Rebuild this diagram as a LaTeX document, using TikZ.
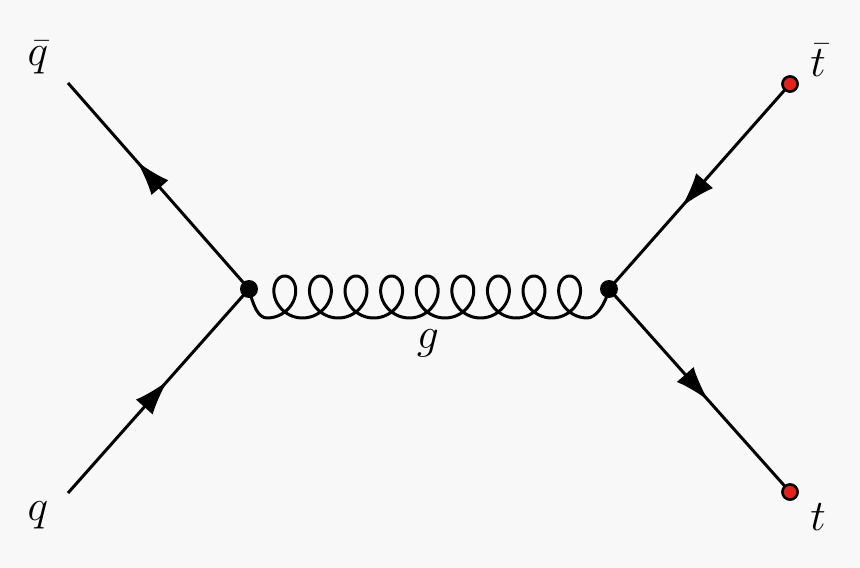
\documentclass[tikz,border=0pt]{standalone}
\usetikzlibrary{arrows.meta,decorations.markings}
\definecolor{bg}{HTML}{F8F8F8}
\definecolor{tred}{HTML}{E8201C}
\begin{document}
\begin{tikzpicture}[x=0.02cm,y=-0.02cm,
  fermion/.style={line width=1.7pt,postaction={decorate},decoration={markings,mark=at position #1 with {\arrow{Latex[length=0.7cm,width=0.45cm]}}}},
  gluon/.style={line width=1.7pt},
  vtx/.style={circle,fill=black,inner sep=0pt,minimum size=0.36cm},
  ext/.style={circle,fill=tred,draw=black,line width=1.4pt,inner sep=0pt,minimum size=0.3cm},
  lbl/.style={font=\fontsize{27}{30}\selectfont}]
\fill[bg] (0,0) rectangle (860,568);
\useasboundingbox (0,0) rectangle (860,568);
\coordinate (q) at (68,493);
\coordinate (qb) at (68,83);
\node[ext] (tb) at (790,84) {};
\node[ext] (t) at (790,492) {};
\coordinate (A) at (249,289);
\coordinate (B) at (609,289);
\coordinate (gs) at (267,318);
\coordinate (ge) at (587,318);
\draw[fermion=0.55] (q) -- (A);
\draw[fermion=0.62] (A) -- (qb);
\draw[fermion=0.6] (tb.center) -- (B);
\draw[fermion=0.55] (B) -- (t.center);
\draw[gluon,line join=round] (A) .. controls (253,305) and (258,318) .. (gs)
  plot[domain=0:3240,samples=541,smooth] ({267+0.098889*\x+19*sin(\x)},{297+21*cos(\x)})
  (ge) .. controls (596,318) and (605,305) .. (B);
\node[vtx] (va) at (A) {};
\node[vtx] (vb) at (B) {};
\node[ext] at (tb) {};
\node[ext] at (t) {};
\node[lbl] (lqb) at (38,58) {$\bar q$};
\node[lbl] (lq) at (38,515) {$q$};
\node[lbl] (ltb) at (818,60) {$\bar t$};
\node[lbl] (lt) at (818,517) {$t$};
\node[lbl] (lg) at (428,343) {$g$};
\end{tikzpicture}
\end{document}
